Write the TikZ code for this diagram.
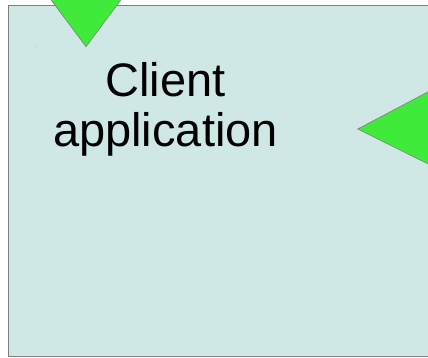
\documentclass[tikz,border=0pt]{standalone}
\usepackage{fontspec}
\setmainfont{Liberation Sans}
\begin{document}
\begin{tikzpicture}[x=1pt,y=-1pt,
  boxstyle/.style={draw=black!50,fill=boxfill,line width=0.8pt},
  tri/.style={draw=black!50,fill=trigreen,line width=0.6pt,line join=miter},
  label/.style={font=\fontsize{47}{50}\selectfont,align=center,inner sep=0pt,text=black}]
\definecolor{boxfill}{HTML}{CFE7E5}
\definecolor{trigreen}{HTML}{3FEA3B}
\useasboundingbox (0,0) rectangle (428,357);
\clip (0,0) rectangle (428,357);
\fill[white] (0,0) rectangle (428,357);
\draw[boxstyle] (8.5,5.3) rectangle (460,356);
\draw[tri] (40,-15) -- (132,-15) -- (86,46.7) -- cycle;
\draw[tri] (357.7,129) -- (450,80.2) -- (450,174.8) -- cycle;
\fill[black!40] (36,46.7) circle (0.4);
\fill[black!25] (357,103) circle (0.4);
\node[label,anchor=base] (client) at (165.5,96.7) {Client};
\node[label,anchor=base] (app) at (165.5,146.7) {application};
\end{tikzpicture}
\end{document}
